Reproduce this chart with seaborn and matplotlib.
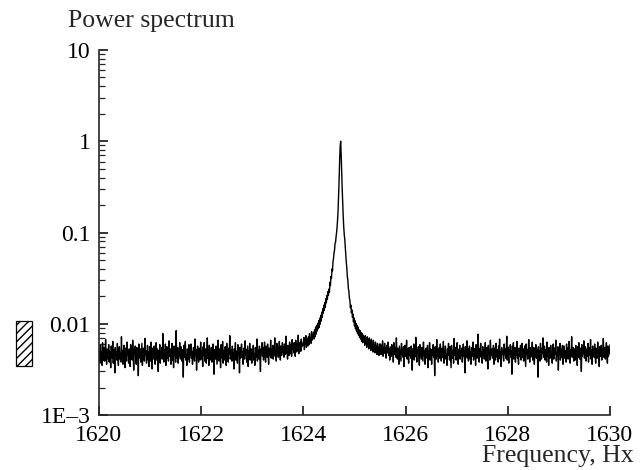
import numpy as np
import pandas as pd
import seaborn as sns
import matplotlib.pyplot as plt
from matplotlib.patches import Rectangle
from matplotlib.ticker import FixedLocator, FixedFormatter, LogLocator, NullFormatter

sns.set_style('ticks')
plt.rcParams['font.family'] = ['Liberation Serif', 'DejaVu Serif']

# spectrum, in units of 1e-4, one sample every 0.01 Hz from 1620 Hz
f_start = 1620.0
f_step = 0.01

# 1620.00 - 1623.99 Hz
left_noise = [
    44, 51, 37, 58, 42, 48, 35, 62, 46, 40, 55, 39, 49, 67, 43, 36, 53, 47, 41, 59,
    38, 50, 45, 33, 57, 48, 42, 64, 37, 52, 46, 29, 55, 44, 49, 40, 61, 45, 35, 50,
    56, 41, 47, 38, 72, 44, 51, 36, 48, 58, 42, 33, 54, 46, 39, 63, 45, 50, 37, 53,
    47, 34, 59, 43, 49, 40, 66, 45, 31, 52, 48, 57, 41, 36, 55, 44, 50, 27, 60, 46,
    42, 53, 38, 48, 61, 35, 47, 54, 43, 39, 69, 46, 51, 37, 44, 58, 40, 49, 34, 56,
    45, 39, 63, 47, 32, 54, 41, 50, 57, 44, 36, 48, 62, 40, 53, 45, 30, 51, 46, 59,
    37, 49, 44, 55, 41, 78, 46, 38, 52, 43, 60, 35, 47, 56, 42, 50, 39, 65, 44, 48,
    53, 36, 46, 61, 40, 49, 33, 57, 45, 51, 38, 84, 47, 42, 55, 37, 50, 44, 62, 41,
    48, 56, 39, 45, 52, 26, 58, 43, 49, 64, 40, 46, 35, 53, 47, 41, 59, 38, 51, 45,
    60, 42, 50, 36, 47, 55, 44, 39, 68, 45, 52, 31, 49, 57, 43, 38, 54, 46, 40, 63,
    41, 51, 47, 34, 56, 45, 62, 39, 48, 53, 37, 46, 70, 42, 50, 35, 58, 44, 49, 40,
    55, 38, 45, 60, 43, 28, 52, 47, 41, 57, 45, 36, 50, 66, 44, 39, 53, 48, 33, 59,
    46, 42, 64, 37, 51, 45, 40, 56, 48, 35, 61, 43, 49, 38, 54, 47, 74, 41, 45, 52,
    39, 57, 44, 48, 32, 53, 46, 62, 40, 50, 44, 37, 59, 45, 51, 29, 55, 42, 48, 60,
    43, 49, 36, 54, 47, 41, 65, 45, 52, 38, 46, 57, 34, 50, 44, 61, 40, 48, 53, 37,
    51, 45, 58, 40, 47, 35, 55, 49, 43, 68, 39, 52, 46, 41, 57, 44, 30, 53, 48, 62,
    44, 55, 40, 50, 63, 46, 38, 57, 49, 43, 60, 47, 36, 54, 51, 45, 66, 42, 52, 48,
    58, 41, 53, 47, 70, 44, 50, 39, 61, 48, 55, 43, 52, 64, 46, 40, 57, 50, 45, 62,
    49, 56, 43, 60, 51, 46, 73, 48, 54, 41, 58, 50, 45, 63, 52, 47, 59, 44, 67, 53,
    57, 48, 62, 51, 44, 66, 54, 49, 60, 52, 75, 47, 58, 55, 63, 50, 68, 56, 61, 59,
]

# 1624.00 - 1625.49 Hz
peak = [
    58, 71, 52, 66, 60, 74, 55, 69, 63, 57,
    72, 59, 78, 63, 70, 61, 82, 66, 75, 69,
    81, 68, 86, 72, 92, 77, 96, 83, 101, 88,
    108, 91, 115, 99, 124, 107, 134, 118, 146, 131,
    160, 140, 172, 152, 188, 170, 205, 186, 225, 205,
    240, 222, 285, 262, 330, 315, 400, 380, 480, 520,
    600, 640, 760, 780, 900, 1000, 1150, 1400, 1800, 2600,
    3900, 6200, 8800, 10000, 7000, 4500, 3000, 2100, 1500, 1150,
    950, 840, 690, 590, 470, 410, 330, 300, 245, 230,
    190, 182, 150, 160, 132, 142, 118, 128, 105, 116,
    95, 108, 88, 101, 83, 96, 78, 92, 75, 86,
    71, 84, 68, 80, 64, 78, 62, 75, 66, 72,
    58, 74, 62, 69, 55, 72, 60, 66, 53, 70,
    57, 64, 51, 68, 55, 61, 49, 66, 54, 59,
    48, 63, 52, 57, 46, 61, 50, 55, 45, 60,
]

# 1625.50 - 1630.00 Hz
right_noise = [
    52, 60, 46, 57, 49, 65, 44, 55, 50, 61, 47, 54, 42, 58, 51, 48, 63, 45, 53, 40,
    56, 49, 44, 59, 47, 52, 38, 62, 46, 51, 55, 43, 70, 48, 41, 54, 47, 36, 57, 50,
    45, 39, 61, 47, 52, 43, 56, 34, 49, 58, 44, 48, 66, 41, 53, 46, 37, 55, 45, 50,
    42, 57, 47, 31, 53, 45, 60, 40, 49, 44, 71, 46, 38, 52, 48, 56, 43, 35, 59, 46,
    50, 41, 55, 47, 39, 63, 45, 51, 36, 48, 54, 42, 46, 58, 33, 50, 44, 62, 40, 53,
    47, 36, 52, 45, 59, 43, 49, 27, 56, 46, 41, 67, 44, 51, 38, 48, 55, 42, 60, 45,
    39, 54, 48, 43, 64, 37, 50, 46, 57, 41, 47, 35, 53, 45, 61, 49, 40, 56, 44, 33,
    58, 46, 42, 51, 37, 69, 45, 49, 55, 40, 48, 62, 43, 36, 52, 47, 58, 41, 50, 45,
    54, 38, 47, 60, 44, 50, 29, 56, 43, 48, 65, 42, 53, 39, 46, 57, 41, 49, 36, 55,
    44, 51, 63, 40, 48, 45, 54, 35, 59, 46, 42, 50, 77, 44, 38, 53, 47, 61, 43, 49,
    37, 56, 45, 52, 41, 47, 62, 39, 50, 55, 44, 32, 58, 46, 51, 40, 66, 45, 48, 53,
    42, 49, 58, 36, 54, 46, 40, 61, 47, 43, 52, 38, 57, 45, 68, 41, 49, 34, 55, 47,
    51, 44, 39, 60, 46, 53, 42, 48, 73, 40, 56, 45, 37, 52, 47, 59, 43, 50, 28, 57,
    46, 62, 41, 49, 55, 38, 51, 45, 64, 42, 47, 36, 54, 50, 44, 58, 40, 48, 61, 43,
    53, 39, 47, 57, 44, 34, 60, 46, 52, 41, 49, 67, 45, 38, 55, 43, 51, 47, 63, 40,
    48, 55, 36, 50, 45, 59, 42, 53, 47, 26, 56, 44, 50, 39, 61, 46, 41, 54, 48, 70,
    43, 49, 57, 40, 52, 46, 38, 63, 44, 51, 35, 55, 47, 42, 58, 45, 49, 37, 53, 60,
    41, 54, 46, 50, 66, 39, 48, 44, 56, 31, 52, 45, 61, 40, 47, 53, 43, 58, 36, 49,
    57, 42, 51, 45, 38, 60, 47, 54, 41, 49, 64, 44, 37, 52, 46, 72, 43, 50, 55, 39,
    47, 53, 40, 58, 45, 49, 35, 56, 43, 62, 48, 41, 54, 46, 30, 59, 44, 51, 47, 65,
    42, 50, 56, 39, 47, 53, 44, 61, 38, 48, 55, 45, 67, 41, 52, 36, 57, 46, 49, 43,
    60, 45, 37, 54, 48, 42, 63, 46, 51, 34, 56, 44, 49, 58, 40, 53, 47, 69, 43, 50,
    55, 41, 48, 62, 45, 37, 57, 44, 52, 47, 59,
]

x_ticks = [1620, 1622, 1624, 1626, 1628, 1630]
y_ticks = [1e-3, 1e-2, 1e-1, 1, 10]
y_labels = ['1E\u20133', '0.01', '0.1', '1', '10']

power = np.array(left_noise + peak + right_noise) * 1e-4
freq = f_start + f_step * np.arange(len(power))
df = pd.DataFrame({'freq': freq, 'power': power})

fig = plt.figure(figsize=(6.41, 4.70), dpi=100)
ax = fig.add_axes([0.1544, 0.117, 0.7972, 0.7766])

sns.lineplot(data=df, x='freq', y='power', ax=ax, color='black', lw=1.0,
             estimator=None, sort=False)

ax.set_yscale('log')
ax.set_xlim(1620, 1630)
ax.set_ylim(1e-3, 10)
ax.xaxis.set_major_locator(FixedLocator(x_ticks))
ax.yaxis.set_major_locator(FixedLocator(y_ticks))
ax.yaxis.set_major_formatter(FixedFormatter(y_labels))
ax.yaxis.set_minor_locator(LogLocator(base=10, subs=np.arange(2, 10)))
ax.yaxis.set_minor_formatter(NullFormatter())

for s in ['top', 'right']:
    ax.spines[s].set_visible(False)
for s in ['left', 'bottom']:
    ax.spines[s].set_linewidth(1.2)
ax.tick_params(which='major', direction='in', length=6.3, width=1.1, labelsize=17,
               color='black', labelcolor='black')
ax.tick_params(which='minor', direction='in', length=4.2, width=0.9)
ax.tick_params(axis='x', pad=7)
ax.tick_params(axis='y', pad=6)

ax.set_xlabel('')
ax.set_ylabel('')
fig.text(0.106, 0.943, 'Power spectrum', fontsize=18.5, ha='left', va='baseline')
fig.text(0.988, 0.017, 'Frequency, Hx', fontsize=18.5, ha='right', va='baseline')

fig.patches.append(Rectangle((0.025, 0.2213), 0.025, 0.0957, transform=fig.transFigure,
                             facecolor='white', edgecolor='black', lw=0.9, hatch='////'))

fig.savefig('out.png', dpi=100)
